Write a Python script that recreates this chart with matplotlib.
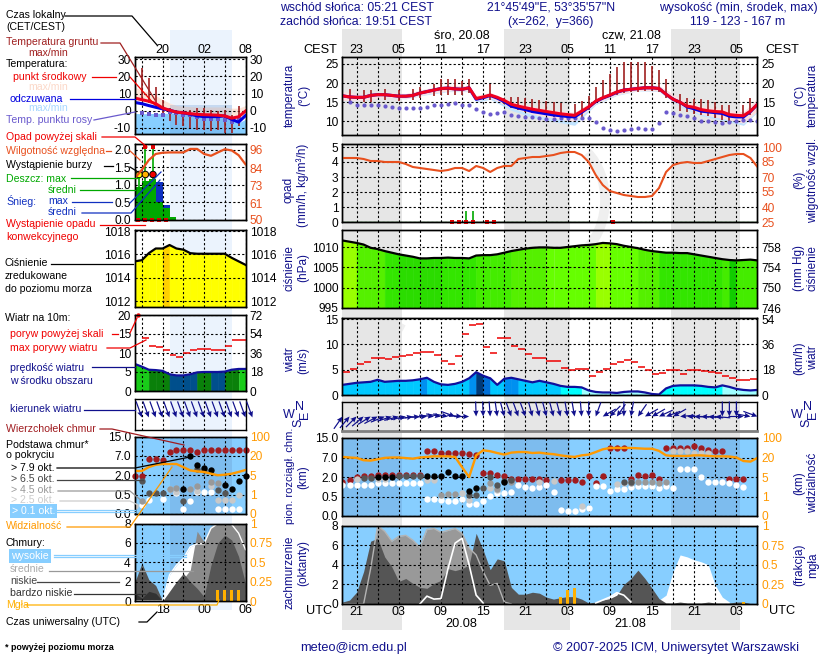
"""
Meteogram page: short left column (history) + long right column (forecast).
Panels are placed by pixel position so they line up with the 820x660 page.
"""
import numpy as np
import matplotlib
matplotlib.use("Agg")
import matplotlib.pyplot as plt
from matplotlib.patches import Arc

plt.rcParams["font.family"] = ["Liberation Sans", "DejaVu Sans"]
W, H = 820, 660

# ── colours ──────────────────────────────────────────────────────────
NAVY = "#10108c"
SKY = "#87ceff"
SKY_NIGHT = "#7dbcee"
ORANGE = "#ff9900"
RH_COL = "#e8501e"
DEW_COL = "#6a5acd"
GROUND_COL = "#a02020"
RAIN_COL = "#00a800"
SNOW_COL = "#1030c0"
TOP_COL = "#a01c20"
PINK = "#fcdfe0"
PALE_BLUE = "#c2e4ff"

# ── right column data: hourly, hours counted from 03 UTC 20.08 ───────
hours = np.arange(-8, 52)
temp_mid = [16.7, 16.4, 16.3, 16.3, 16.8, 17.0, 17.0, 16.8, 16.6, 16.6, 16.8, 17.4, 17.8, 18.2, 18.6,
            18.7, 18.5, 18.4, 18.8, 16.0, 16.4, 16.9, 16.3, 15.5, 14.5, 14.0, 13.6, 13.2, 12.9, 12.6,
            12.3, 12.0, 11.8, 11.6, 12.7, 13.8, 15.3, 16.2, 16.9, 17.7, 18.2, 18.4, 18.6, 18.8, 18.8,
            18.6, 17.1, 15.8, 15.0, 14.0, 13.7, 13.1, 12.8, 12.6, 12.5, 11.8, 11.6, 11.5, 12.7, 14.5]
temp_feel = [16.7, 16.4, 16.3, 16.3, 16.8, 17.0, 17.0, 16.8, 16.6, 16.6, 16.8, 17.4, 17.8, 18.2, 18.6,
             18.7, 18.5, 18.4, 18.8, 15.8, 16.2, 16.8, 16.1, 15.2, 14.0, 13.5, 13.1, 12.6, 12.3, 12.0,
             11.7, 11.5, 11.3, 11.2, 12.4, 13.7, 15.2, 16.1, 16.8, 17.6, 18.2, 18.4, 18.6, 18.8, 18.8,
             18.6, 17.1, 15.8, 15.0, 13.8, 13.3, 12.7, 12.5, 12.3, 12.1, 11.4, 11.2, 11.2, 12.6, 14.5]
env_hours = [-8, -5, -2, 1, 4, 7, 10, 11, 13, 16, 19, 22, 25, 28, 31, 34, 37, 40, 43, 46, 49, 51]
temp_max = [17.8, 17.0, 17.6, 17.3, 18.6, 19.5, 19.3, 16.8, 17.6, 15.3, 14.0, 13.0, 12.4, 15.9, 18.4,
            19.4, 19.4, 16.0, 14.0, 13.4, 12.5, 16.0]
temp_min = [15.5, 15.6, 16.2, 16.0, 17.2, 18.0, 18.0, 15.4, 16.2, 13.6, 11.9, 10.9, 10.0, 14.7, 17.0,
            18.1, 18.0, 14.2, 11.9, 10.8, 9.6, 12.8]
feel_min = [15.4, 15.5, 16.1, 15.9, 17.0, 17.8, 17.8, 15.0, 15.8, 12.9, 11.0, 10.0, 9.0, 14.4, 16.8,
            18.0, 17.8, 13.9, 11.5, 10.3, 9.0, 12.5]
ground_hours = [-7, -5, -4, -2, 0, 2, 3, 5, 6, 7, 8, 9, 10, 13, 15, 16, 17, 18, 19, 20, 21, 22, 23, 25,
                26, 27, 28, 29, 30, 31, 32, 33, 34, 35, 36, 37, 38, 40, 41, 42, 43, 44, 45, 46, 47, 49, 50]
ground_max = [18.4, 18.2, 18.2, 18.6, 18.2, 18.4, 19.1, 19.7, 21, 21.2, 21, 20.6, 21.2, 19.7, 16.2, 16.5,
              16.5, 16, 15.8, 15.5, 15.3, 15, 14.7, 14.5, 15.3, 16.7, 18.9, 20.8, 22.4, 24.1, 25.4, 25.6,
              25.6, 25.4, 24.5, 23.4, 21, 17.1, 16, 15.8, 15.8, 15.5, 15.1, 14.4, 14.2, 14.4, 16]
ground_min = [14.6, 15, 15.2, 15.6, 15.4, 15.6, 16, 16.6, 17, 17, 17, 17, 17.4, 15.6, 14.6, 13.4, 13, 12.6,
              12.2, 12, 11.6, 11.2, 10.9, 10.4, 11.2, 13, 14.7, 15.8, 16.5, 17, 17.5, 17.8, 17.8, 18, 18,
              17.8, 16.2, 12.8, 12.6, 12, 11.6, 11.4, 11, 10.4, 10, 10.2, 11.6]
dew_point = [np.nan, 15, 14.2, 14.2, 14.2, 14.2, 14, 13.8, 13.4, 13.4, 13.5, 13.6, 13.8, 14.3, 14.4, 14.5,
             14.7, 14.4, 14.4, 13.3, 12.5, 12, 12.3, 12.6, 11.8, 11.4, 11.2, 11.1, 10.9, 10.7, 10.6, 10.9,
             10.9, 10.8, 10.8, 10.8, 9.9, 8.4, 7.9, 7.5, 7.9, 8.1, 8.3, 8.1, 8.1, 9.5, 12.4, 12.3, 11.6,
             11.4, 10.8, 10, 10, 9.9, 9.5, 9.9, 10, 10.3, 10.5, 10]
rh_mid = [89, 89, 89, 88, 86, 86, 85, 85, 85, 83, 80, 79, 78, 77, 76, 77, 79, 79, 76, 81, 79, 75, 79, 81,
          81, 88, 89, 90, 90, 91, 92, 94, 95, 95, 92, 85, 72, 62, 56, 54, 52, 51, 50, 50, 51, 59, 75, 82,
          84, 85, 84, 84, 86, 88, 90, 92, 93, 93, 89, 80]
conv_hours = [7.5, 8.5, 9.5, 10.5, 12.5, 13.5, 30.5]
rain_hours = [9.5, 10.5]
rain_max = [0.73, 0.73]
pressure = [1011.6, 1011.3, 1011, 1010.6, 1009.8, 1009.5, 1009, 1008.6, 1008.2, 1007.9, 1007.6, 1007.2, 1007.2,
            1007.3, 1007.3, 1007.4, 1007.3, 1007.3, 1007.2, 1007.9, 1008, 1008, 1008.2, 1008.6, 1009, 1009.3,
            1009.6, 1009.8, 1009.9, 1009.9, 1009.8, 1009.8, 1010, 1010.2, 1010.4, 1010.5, 1010.7, 1011, 1010.9,
            1010.7, 1010.3, 1010, 1009.7, 1009.3, 1009, 1008.8, 1008.6, 1008.6, 1008.5, 1008.5, 1008.2, 1007.9,
            1007.6, 1007.3, 1007, 1006.8, 1006.7, 1006.8, 1006.9, 1006.7]
press_palette = ["#99ff00", "#66ff00", "#55f000", "#44ec00", "#33e600", "#2bdc00", "#11cc00"]
press_color = [0, 0, 2, 2, 2, 2, 4, 4, 5, 5, 5, 5, 5, 5, 4, 4, 4, 4, 4, 3, 3, 3, 3, 3, 2, 2, 2, 2, 2,
               1, 1, 1, 1, 1, 1, 1, 0, 0, 1, 1, 1, 1, 2, 2, 2, 4, 4, 4, 4, 4, 4, 4, 4, 4, 3, 6, 3, 3, 3]
wind_speed = [2, 2.2, 2.4, 2.5, 2.6, 3, 2.6, 2.7, 2.8, 2.8, 2.9, 3.1, 3.4, 2.6, 2.1, 2, 2.2, 2.6, 3.3, 4.5,
              3.8, 3.3, 2, 3.2, 3.4, 3.1, 2.8, 2.5, 2.8, 2.5, 2.2, 1.8, 1.6, 1.6, 1.5, 0.9, 0.6, 0.5, 0.5,
              0.4, 0.6, 0.7, 0.7, 0.5, 0.2, 0.1, 1.3, 1.8, 1.9, 1.9, 1.9, 1.8, 1.6, 1.5, 1.9, 1.6, 1.2, 1.0, 0.9, 1.0]
wind_palette = ["#a0ffff", "#00ffff", "#00c8ff", "#0090f0", "#0070d8", "#003a78"]
wind_color = [2] * 11 + [3] + [2] * 6 + [3, 5, 4, 2, 2, 3, 3] + [2] * 6 + [1] * 3 + [0] * 11 + [1] * 9 + [0] * 5
gust = [4.5, 5.2, 6.1, 6.5, 7.3, 7.3, 7.2, 7.5, 7.6, 7.9, 8.2, 8.5, 8.5, 7.9, 6.7, 6.1, 7.7, 12.1, 13.8, 14,
        9.4, 8.3, 11.2, 11.2, 9.6, 9.1, 8, 7.3, 7.3, 6.7, 6.7, 5.4, 5, 5.2, 5.2, 3.7, 4.5, 5.2, 6.1, 6.6,
        6.9, 6.5, 5.6, 5, 4.1, 4.3, 4.9, 4.9, 4.1, 4.9, 4.9, 4.7, 4.5, 4.3, 3.7, 3.4, 2.9, 2.9, 3.2]
wind_to_deg = [35, 40, 45, 50, 58, 62, 68, 72, 75, 78, 80, 85, 88, 95, 100, 100, 110, 95, 90, 178, 178, 176,
               172, 165, 160, 160, 160, 165, 165, 165, 165, 165, 170, 170, 175, 180, 200, 240, 225, 215, 180,
               190, 215, 240, 240, 245, 250, 240, 265, 270, 272, 272, 275, 275, 180, 180, 180, 90, 100, 110]

# cloud panel uses one axis unit per tick, ticks are not evenly spaced in km
cloud_ticks = [0, 1, 2, 3, 4]
cloud_labels = ["0.0", "0.5", "2.0", "7.0", "15.0"]
vis_labels = ["0", "1", "5", "20", "100"]
top_pos = [1.72, 1.84, 2.0, 2.04, 2.04, 2.09, 2.09, 2.09, 2.09, 2.09, 2.09, 2.09, 3.34, 3.34, 3.22, 3.25, 3.22,
           3.22, 3.2, 3.11, 2.18, 2.2, 2.08, 2.04, 1.92, 1.92, 1.92, 1.92, 1.92, 1.84, np.nan, 1.84, 1.84, 1.84,
           1.74, 2.04, 1.67, 2.04, 3.51, 3.51, 3.51, 1.92, 2.09, 2.04, 2.09, 1.92, 3.51, 3.51, 3.51, 3.51, 3.59,
           3.51, 3.4, 3.34, 3.34, 1.92, 1.92, 1.92]
black_h = [-3, -2, -1, 4, 5, 6, 7, 8, 9, 10, 11, 15]
black_pos = [2.01, 2.01, 2.01, 2.06, 2.06, 2.06, 2.26, 2.06, 2.06, 1.28, 1.45, 1.75]
dark_h = [-5, -4, 0, 1, 2, 3, 10, 11, 12, 13, 14, 15, 16, 32, 33]
dark_pos = [1.96, 1.96, 2.04, 2.04, 2.04, 2.04, 1.07, 1.07, 1.45, 2.01, 1.58, 1.79, 1.84, 1.75, 1.75]
gray_h = [6, 7, 8, 13, 14, 16, 33, 34, 35, 36, 37, 38]
gray_pos = [1.07, 1.11, 1.11, 1.67, 1.41, 1.75, 1.67, 1.75, 1.75, 1.75, 1.67, 1.75]
light_h = [-6, -3, -2, 4, 5, 9, 10, 13, 14, 20, 22, 26, 31, 32, 33, 39, 40, 41, 42, 43, 44]
light_pos = [1.92, 1.92, 1.92, 1.87, 1.87, 1.16, 0.82, 1.45, 1.33, 1.75, 1.79, 0.53, 1.62, 1.67, 1.75, 3.34, 3.34,
             3.34, 3.25, 3.25, 3.22]
white_pos = [1.58, 1.58, 1.58, 1.58, 1.58, 1.67, 1.67, 1.67, 1.67, 1.67, 1.67, 1.67, 0.87, 0.87, 0.82, 0.75, 0.75,
             0.87, 0.63, 0.6, 0.78, 1.04, 1.16, 1.16, 1.24, 1.58, 1.5, 1.46, 1.5, 1.58, 1.24, 0.31, 0.26, 0.27,
             0.34, 0.43, 1.53, 1.53, 1.29, 1.36, 1.36, 1.5, 1.53, 1.53, 1.53, 1.46, 1.53, 1.46, 2.42, 2.42, 2.42,
             2.0, 1.75, 1.75, 1.75, 1.67, 1.58, 1.5]
vis_pos = [3.03, 3.0, 2.98, 2.86, 2.84, 2.91, 2.98, 3.0, 3.0, 2.97, 2.94, 3.0, 3.03, 3.06, 3.06, 3.06, 3.03, 2.5, 2.0,
           3.11, 3.37, 3.32, 3.23, 3.15, 3.25, 3.28, 3.28, 3.23, 3.25, 3.2, 3.17, 3.11, 3.06, 3.03, 3.11, 3.15, 3.28,
           3.42, 3.49, 3.49, 3.49, 3.49, 3.47, 3.45, 3.45, 3.34, 3.11, 3.08, 3.08, 3.08, 3.11, 3.11, 3.08, 3.06, 3.06,
           3.05, 3.0, 2.82, 2.79, 2.98]

cover_mid = [0, 0, 0, 0, 3.6, 8, 7.4, 6.4, 6.9, 7, 6.5, 5.8, 7.6, 7.7, 7.3, 7.5, 7.7, 7.2, 5.7, 5, 3.3, 1.9, 2.1, 0.2, 0]
cover_low = [0.2, 0.4, 1.2, 3.3, 6.4, 6.7, 4.8, 3.8, 2.3, 2.6, 2.1, 1.7, 1.6, 2.1, 2.4, 3.6, 3.4, 3.6, 4.0, 7.2, 5.5, 3.5,
             4.6, 4.4, 1.7, 1, 1, 1.2, 1.1, 0.7, 0.5, 0.65, 0.75, 0.75, 0.5, 0.1, 0.2, 0.4, 0.55, 0.9, 2, 2.6, 3.45, 2.6,
             1.6, 0.55, 0.1, 0.1, 0.2, 0.1, 0.1, 0.1, 0.2, 0.1, 0.1, 0.1, 0.2, 0.2, 0.05, 0]
high_h = [3, 4, 5, 6, 7, 8, 9, 10, 11, 12, 28, 29, 30, 31, 32, 33, 36, 37, 38, 39, 40, 41, 42, 43, 44, 45, 46, 47]
high_cover = [0, 0.8, 0.5, 0.55, 3.6, 6.2, 6.7, 4, 0.9, 0.1, 0.1, 0.4, 0.7, 1.15, 0.9, 0.2, 0, 0.4, 0.9, 3.3, 5, 4.8,
              4.5, 4.3, 4, 1.9, 0.7, 0.2]
fog_h = [23, 24, 25, 49]
fog_frac = [0.09, 0.175, 0.2, 0.02]

# ── left column data: hourly, hours UTC (24 = midnight) ──────────────
l_hours = np.arange(14, 31)
l_temp = [7.3, 6.4, 5.5, 4.1, 1.6, 0.3, -0.8, -1.2, -1.7, -2.1, -2.3, -2.4, -2.6, -3, -4.3, -3.5, -0.2]
l_feel = [4.8, 4.1, 3, 2, 1.1, 0.3, -0.8, -1.2, -2, -3, -3.4, -3.4, -3.4, -3, -5, -6.6, -2.8]
l_temp_max = [13.6, 12, 10.5, 8.8, 6.5, 4.5, 3, 2.6, 2.4, 2.2, 2.2, 2.2, 2.2, 2.2, 1.5, 1.5, 3]
l_feel_top = [-1.5, -1.8, -1.6, -1.6, -1.5, -1.5, -1.6, -1.8, -2.5, -3.5, -4, -4, -4, -4, -5.5, -7, -5]
l_ground_h = [15, 16, 17, 18, 19, 20, 21, 22, 23, 24, 25, 26, 27, 28, 29]
l_ground_max = [24.7, 18.9, 13.7, 6.4, 1.5, 0.6, -0.4, 0.6, 1.5, 1.5, 0.6, -0.4, 0.6, -2.3, 2.5]
l_ground_min = [6.4, 4.4, 2.5, -2.3, -6.2, -8.1, -9, -10, -11, -11, -12, -11, -12.9, -12.9, -9]
l_dew = [np.nan, -1.3, -1.9, -2.7, -2.7, -0.9, -1.3, -2.3, -2.7, -3.7, -4.9, -4.9, -4.7, -5.3, -6.3, -4.3, np.nan]
l_rh = [77.6, 83, 89.4, 93.4, 94.2, 94.4, 94.4, 94.4, 96.7, 96.7, 93.4, 92.2, 94.4, 96.5, 95.7, 92.6, 86.6]
l_rain = [0.95, 1.1, 1.16, 0.52, 0.34, 0.08]
l_snow = [0, 0, 0, 1.09, 0.43, 0]
l_rain_hours = [14, 15, 16, 17, 18, 19]
l_rain_max_h = [14.6, 15.5, 16.6]
l_rain_max = [1.3, 2.05, 2.05]
l_over_h = [15.5, 16.6]
l_storm_col = ["#ffff00", "#ffb000", "#f00000"]
l_conv_h = [14.5, 15.5, 16.5, 17.5, 18.5]
l_press = [1015.4, 1015.5, 1016.1, 1016.5, 1016.5, 1016.8, 1016.5, 1016.4, 1016.1, 1016.05, 1016.05, 1016.05,
           1016.05, 1016.05, 1015.7, 1015.4, 1015.1]
l_press_palette = ["#ffff00", "#ffd000"]
l_press_color = [0, 0, 0, 0, 1] + [0] * 11
l_wind = [7.1, 6.4, 5.6, 5.5, 5.3, 4.4, 4.1, 4.1, 4.4, 4.9, 5, 5, 5, 5.1, 5.6, 5.8, 5.8]
l_wind_palette = ["#19cc19", "#0a800a", "#004f8c"]
l_wind_color = [0, 0, 1, 1, 1, 2, 2, 2, 2, 1, 1, 2, 2, 1, 1, 0]
l_gust_h = [15, 16, 17, 18, 19, 20, 21, 22, 23, 24, 25, 26, 27, 28, 29]
l_gust = [13.9, 11.8, 11.6, 10.7, 9.6, 8.9, 10, 10.7, 11.1, 11.1, 10.7, 10.7, 11.9, 13.3, 13.3]
l_wind_to = [160] * 17
l_top = [1.98, 1.98, 2.85, 2.85, 2.8, 3.22, 3.32, 3.32, 3.32, 3.22, 3.32, 3.32, 3.32, 3.32, 3.32, 3.32, 3.32]
l_black_h = [21, 22, 23, 24, 25, 27, 28, 29, 30]
l_black = [1.27, 2.97, 2.54, 2.37, 2.25, 1.49, 1.29, 1.69, 1.95]
l_dark_h = [15, 16, 17, 18, 21, 23, 24, 26, 27]
l_dark = [1.69, 1.1, 1.1, 1.1, 0.68, 2.34, 2.25, 1.24, 1.1]
l_gray_h = [15, 19, 20, 22, 23, 25, 26]
l_gray = [0.68, 1.27, 1.32, 1.27, 1.46, 1.66, 1.58]
l_light_h = [14, 19, 20, 23, 25, 26, 27, 28, 29]
l_light = [0.42, 1.27, 1.15, 1.2, 1.44, 0.73, 0.73, 0.73, 0.98]
l_white_h = [15, 16, 18, 20, 21, 22, 23, 24, 25, 26, 27, 28, 29]
l_white = [0.47, 0.73, 0.76, 1.1, 0.25, 0.69, 1.15, 1.15, 1.15, 0.25, 0.25, 0.25, 0.25]
l_vis = [2.22, 2.22, 2.42, 2.54, 2.58, 2.58, 2.58, 2.42, 2.25, 2.2, 2.17, 2.08, 2.0, 2.03, 2.08, 2.17, 2.27]
l_cover_low = [2, 3.9, 2.2, 1.6, 0, 1, 2, 2.85, 2, 1.3, 0.45, 3.7, 6, 6.8, 6.3, 4.6, 1.8]
l_cover_vlow = [0.8, 0.3, 1, 0.8, 0, 0, 0, 0, 0, 0, 0, 0, 0, 0, 0, 0, 0]
l_cover_mid = [0, 0, 0, 0, 0, 0, 1.3, 2.3, 3.2, 7.2, 6.1, 7.7, 8, 8, 8, 8, 8]
l_cover_high = [0, 0, 0, 0, 0, 2.7, 3.7, 4.4, 5.6, 5.9, 5.9, 7.5, 8, 8, 7.9, 7, 5.3]
l_fog_h = [26, 27, 28, 29]
l_fog = [0.14, 0.14, 0.14, 0.14]

# ── time axes ────────────────────────────────────────────────────────
night_start = [-8, 14.9, 38.7]
night_end = [0.5, 24.4, 48.5]
R_TICKS = list(range(-6, 51, 3))
L_TICKS = [15, 18, 21, 24, 27, 30]
local_labels = ["23", "05", "11", "17", "23", "05", "11", "17", "23", "05"]
utc_labels = ["21", "03", "09", "15", "21", "03", "09", "15", "21", "03"]
l_local_labels = ["", "20", "", "02", "", "08"]
l_utc_labels = ["", "18", "", "00", "", "06"]


def every_other(labels):
    out = []
    for lab in labels:
        out += [lab, ""]
    return out[:len(R_TICKS)]


def add_panel(x0, x1, y0, y1):
    return fig.add_axes([x0 / W, 1 - y1 / H, (x1 - x0) / W, (y1 - y0) / H])


def limits(v1, p1, v2, p2, top, bottom):
    # y limits from two tick values with known pixel rows
    k = (v2 - v1) / (p2 - p1)
    return v1 + (bottom - p1) * k, v1 + (top - p1) * k


def style(ax, xlim, xticks, ticks, labels, lims, col="black", side="left"):
    ax.set_xlim(*xlim)
    ax.set_ylim(*lims)
    ax.patch.set_visible(False)
    ax.set_xticks(xticks)
    ax.set_xticklabels([])
    ax.set_yticks(ticks)
    ax.set_yticklabels(labels, color=col, fontsize=TICK_FS)
    ax.tick_params(length=0, pad=3)
    for s in ax.spines.values():
        s.set_linewidth(1.0)
    ax.set_axisbelow(False)
    ax.grid(True, color="black", linestyle=(0, (2, 2)), linewidth=0.8)


def twin(ax, ticks, labels, lims, col="black"):
    t = ax.twinx()
    t.set_ylim(*lims)
    t.set_yticks(ticks)
    t.set_yticklabels(labels, color=col, fontsize=TICK_FS)
    t.tick_params(length=0, pad=3)
    t.patch.set_visible(False)
    for s in t.spines.values():
        s.set_linewidth(1.0)
    return t


def strips(ax, x, y, base, palette, idx):
    # thin same-colour edge hides the seams between neighbouring strips
    for i, c in enumerate(idx):
        ax.fill_between(x[i:i + 2], base, y[i:i + 2], color=palette[c], linewidth=0.4)


TICK_FS = 8.6
LAB_FS = 7.6
TITLE_FS = 8.5
fig = plt.figure(figsize=(W / 100, H / 100), dpi=100, facecolor="white")

# page-wide background: night bands, faint logo behind the panels
bg_px = fig.add_axes([0, 0, 1, 1], zorder=-3)
bg_px.set_xlim(0, W)
bg_px.set_ylim(H, 0)
bg_px.axis("off")
for cx, cy, ww, hh, t1, t2 in [(425, 270, 110, 130, 110, 235), (560, 200, 90, 120, 300, 60)]:
    bg_px.add_patch(Arc((cx, cy), ww, hh, theta1=t1, theta2=t2, color="#efefef", linewidth=7))

bg_r = add_panel(342.5, 757.5, 29, 630)
bg_r.set_zorder(-2)
bg_r.set_xlim(hours[0], hours[-1])
bg_r.axis("off")
for a, b in zip(night_start, night_end):
    bg_r.axvspan(a, b, color="#e6e6e6", linewidth=0)
bg_l = add_panel(135, 245.5, 30, 610)
bg_l.set_zorder(-2)
bg_l.set_xlim(l_hours[0], l_hours[-1])
bg_l.axis("off")
bg_l.axvspan(19.07, 28, color="#ebf3fd", linewidth=0)

RX = (342.5, 757.5)
LX = (135, 245.5)
R_XL = (hours[0], hours[-1])
L_XL = (l_hours[0], l_hours[-1])

# ── R1 temperature ───────────────────────────────────────────────────
ax = add_panel(*RX, 57, 135)
lim = limits(25, 64, 10, 121.5, 57, 135)
style(ax, R_XL, R_TICKS, [10, 15, 20, 25], ["10", "15", "20", "25"], lim)
ax.fill_between(env_hours, feel_min, temp_min, color=PALE_BLUE, linewidth=0)
ax.fill_between(env_hours, temp_min, temp_max, color=PINK, linewidth=0)
ax.vlines(ground_hours, ground_min, ground_max, color=GROUND_COL, linewidth=1.2, zorder=3)
ax.scatter(hours, dew_point, s=9, color=DEW_COL, linewidth=0, zorder=3)
ax.plot(hours, temp_feel, color="#0000e0", linewidth=2.2, zorder=4)
ax.plot(hours, temp_mid, color="#f00020", linewidth=2.2, zorder=5)
ax.xaxis.tick_top()
ax.set_xticklabels(every_other(local_labels), fontsize=TICK_FS + 0.4)
ax.tick_params(axis="x", pad=1)
twin(ax, [10, 15, 20, 25], ["10", "15", "20", "25"], lim)

# ── R2 precipitation + humidity ──────────────────────────────────────
ax = add_panel(*RX, 144, 222)
lim = limits(5, 147, 0, 222, 144, 222)
style(ax, R_XL, R_TICKS, range(6), list("012345"), lim)
ax.axhline(0, color="#006400", linewidth=1.0)
ax.vlines(rain_hours, 0, rain_max, color=RAIN_COL, linewidth=1.2, zorder=3)
ax.scatter(conv_hours, [0] * len(conv_hours), marker="s", s=8, color="#e00000", linewidth=0, zorder=4, clip_on=False)
t = twin(ax, [25, 40, 55, 70, 85, 100], ["25", "40", "55", "70", "85", "100"], limits(100, 147, 25, 222, 144, 222), RH_COL)
t.plot(hours, rh_mid, color=RH_COL, linewidth=1.5)

# ── R3 pressure ──────────────────────────────────────────────────────
ax = add_panel(*RX, 230, 308)
lim = limits(1010, 247, 995, 308, 230, 308)
style(ax, R_XL, R_TICKS, [995, 1000, 1005, 1010], ["995", "1000", "1005", "1010"], lim)
strips(ax, hours, pressure, lim[0], press_palette, press_color)
ax.plot(hours, pressure, color="black", linewidth=1.6, zorder=4)
twin(ax, [746, 750, 754, 758], ["746", "750", "754", "758"], limits(758, 247, 746, 308, 230, 308))

# ── R4 wind ──────────────────────────────────────────────────────────
ax = add_panel(*RX, 318, 395)
lim = limits(15, 319, 0, 395, 318, 395)
style(ax, R_XL, R_TICKS, [0, 5, 10, 15], ["0", "5", "10", "15"], lim)
strips(ax, hours, wind_speed, 0, wind_palette, wind_color)
ax.plot(hours, wind_speed, color="#10109c", linewidth=1.6, zorder=4)
ax.hlines(gust, hours[:len(gust)], hours[:len(gust)] + 1, color="#ee0000", linewidth=1.1, zorder=4)
twin(ax, [0, 18, 36, 54], ["0", "18", "36", "54"], limits(54, 319, 0, 395, 318, 395))

# ── R5 wind direction ────────────────────────────────────────────────
ax = add_panel(*RX, 402, 431)
style(ax, R_XL, R_TICKS, [], [], (-1, 1))
ax.grid(False, axis="y")
rad = np.radians(wind_to_deg)
ax.quiver(hours, np.zeros(len(hours)), 15 * np.sin(rad), 15 * np.cos(rad), angles="uv", scale_units="dots", scale=1,
          units="dots", width=1.2, headwidth=4.5, headlength=5, headaxislength=4.5, pivot="tip", color=NAVY,
          clip_on=False, zorder=4)
ax.spines["bottom"].set_color("#808080")
ax.spines["bottom"].set_linewidth(2)

# ── R6 cloud bases, tops, visibility ─────────────────────────────────
ax = add_panel(*RX, 438, 516)
style(ax, R_XL, R_TICKS, cloud_ticks, cloud_labels, (0, 4))
ax.patch.set_visible(True)
ax.patch.set_facecolor(SKY)
for a, b in zip(night_start, night_end):
    ax.axvspan(a, b, color=SKY_NIGHT, linewidth=0, zorder=0)
DOT = 21
ax.scatter(hours[:len(top_pos)], top_pos, s=DOT, color=TOP_COL, linewidth=0, zorder=3)
ax.scatter(hours[:len(white_pos)], white_pos, s=DOT, color="white", linewidth=0, zorder=3.1)
ax.scatter(light_h, light_pos, s=DOT, color="#c8c8c8", linewidth=0, zorder=3.2)
ax.scatter(gray_h, gray_pos, s=DOT, color="#999999", linewidth=0, zorder=3.3)
ax.scatter(dark_h, dark_pos, s=DOT, color="#555555", linewidth=0, zorder=3.4)
ax.scatter(black_h, black_pos, s=DOT, color="black", linewidth=0, zorder=3.5)
t = twin(ax, cloud_ticks, vis_labels, (0, 4), ORANGE)
t.plot(hours, vis_pos, color=ORANGE, linewidth=1.7)

# ── R7 cloud cover ───────────────────────────────────────────────────
ax = add_panel(*RX, 525.5, 604)
style(ax, R_XL, R_TICKS, [0, 2, 4, 6, 8], ["0", "2", "4", "6", "8"], (0, 8))
ax.patch.set_visible(True)
ax.patch.set_facecolor(SKY)
ax.fill_between(high_h, 0, high_cover, color="white", linewidth=0, zorder=1)
ax.fill_between(hours[:len(cover_mid)], 0, cover_mid, color="#999999", linewidth=0, zorder=1.2)
ax.fill_between(hours, 0, cover_low, color="#555555", linewidth=0, zorder=1.3)
ax.plot(hours[:len(cover_mid)], cover_mid, color="#b4b4b4", linewidth=1, zorder=1.4)
ax.plot(high_h[:10], high_cover[:10], color="white", linewidth=1.2, zorder=3)
ax.plot(high_h[10:16], high_cover[10:16], color="white", linewidth=1.2, zorder=3)
ax.set_xticklabels(every_other(utc_labels), fontsize=TICK_FS + 0.4)
ax.tick_params(axis="x", pad=1.5)
t = twin(ax, [0, 0.25, 0.5, 0.75, 1], ["0", "0.25", "0.5", "0.75", "1"], (0, 1), ORANGE)
t.bar(fog_h, fog_frac, width=0.45, color="#ffb000", linewidth=0)

# ── L1 temperature ───────────────────────────────────────────────────
ax = add_panel(*LX, 57, 134)
lim = limits(30, 59, -10, 128, 57, 134)
ticks = [-10, 0, 10, 20, 30]
labs = ["-10", "0", "10", "20", "30"]
style(ax, L_XL, L_TICKS, ticks, labs, lim)
ax.fill_between(l_hours, l_feel_top, lim[0], color=SKY, linewidth=0)
ax.fill_between(l_hours, l_temp_max, l_temp, color="#fde4d8", linewidth=0)
ax.axvspan(19.07, 28, color="#5a8fd0", alpha=0.25, linewidth=0, ymax=0.38)
ax.vlines(l_ground_h, l_ground_min, l_ground_max, color=GROUND_COL, linewidth=1.2, zorder=3)
ax.scatter(l_hours, l_dew, s=9, marker="s", color=DEW_COL, linewidth=0, zorder=3)
ax.plot(l_hours, l_feel, color="#0000e0", linewidth=2.2, zorder=4)
ax.plot(l_hours, l_temp, color="#f00020", linewidth=2.2, zorder=5)
ax.xaxis.tick_top()
ax.set_xticklabels(l_local_labels, fontsize=TICK_FS + 0.4)
ax.tick_params(axis="x", pad=1)
twin(ax, ticks, labs, lim)

# ── L2 precipitation + humidity ──────────────────────────────────────
ax = add_panel(*LX, 144, 220)
lim = limits(2, 150, 0, 220, 144, 220)
style(ax, L_XL, L_TICKS, [0, 0.5, 1, 1.5, 2], ["0.0", "0.5", "1.0", "1.5", "2.0"], lim)
ax.bar(l_rain_hours, l_snow, width=1, align="edge", color=SNOW_COL, linewidth=0, zorder=2)
ax.bar(l_rain_hours, l_rain, width=1, align="edge", color=RAIN_COL, linewidth=0, zorder=2.1)
ax.vlines(l_rain_max_h, 0, l_rain_max, color=RAIN_COL, linewidth=1.2, zorder=3)
ax.scatter(l_over_h, [2.09, 2.09], marker="s", s=12, color="#e00000", linewidth=0, zorder=4)
ax.scatter(l_rain_max_h, [1.3, 1.3, 1.3], s=22, c=l_storm_col, edgecolors="black", linewidth=0.7, zorder=5)
ax.scatter(l_conv_h, [0] * len(l_conv_h), marker="s", s=5, color="#e00000", linewidth=0, zorder=5, clip_on=False)
t = twin(ax, [50, 61, 73, 84, 96], ["50", "61", "73", "84", "96"], limits(96, 150, 50, 220, 144, 220), RH_COL)
t.plot(l_hours, l_rh, color=RH_COL, linewidth=1.6)

# ── L3 pressure ──────────────────────────────────────────────────────
ax = add_panel(*LX, 230, 306.5)
lim = limits(1018, 231, 1012, 301, 230, 306.5)
ticks = [1012, 1014, 1016, 1018]
labs = [str(v) for v in ticks]
style(ax, L_XL, L_TICKS, ticks, labs, lim)
strips(ax, l_hours, l_press, lim[0], l_press_palette, l_press_color)
ax.plot(l_hours, l_press, color="black", linewidth=1.6, zorder=4)
twin(ax, ticks, labs, lim)

# ── L4 wind ──────────────────────────────────────────────────────────
ax = add_panel(*LX, 315, 391)
lim = limits(20, 315, 0, 391, 315, 391)
style(ax, L_XL, L_TICKS, [0, 5, 10, 15, 20], ["0", "5", "10", "15", "20"], lim)
strips(ax, l_hours, l_wind, 0, l_wind_palette, l_wind_color)
ax.plot(l_hours, l_wind, color="#10109c", linewidth=1.6, zorder=4)
ax.hlines(l_gust, l_gust_h, np.array(l_gust_h) + 1, color="#ee0000", linewidth=1.1, zorder=4)
ax.scatter([14.5], [20], s=10, color="#ee0000", linewidth=0, zorder=5, clip_on=False)
twin(ax, [0, 18, 36, 54, 72], ["0", "18", "36", "54", "72"], limits(72, 315, 0, 391, 315, 391))

# ── L5 wind direction ────────────────────────────────────────────────
ax = add_panel(*LX, 398.5, 430)
style(ax, L_XL, L_TICKS, [], [], (-1, 1))
ax.grid(False, axis="y")
rad = np.radians(l_wind_to)
ax.quiver(l_hours + 1, np.full(len(l_hours), -0.2), 17 * np.sin(rad), 17 * np.cos(rad), angles="uv", scale_units="dots",
          scale=1, units="dots", width=1.2, headwidth=4.5, headlength=5, headaxislength=4.5, pivot="tip", color=NAVY,
          clip_on=False, zorder=4)

# ── L6 cloud bases ───────────────────────────────────────────────────
ax = add_panel(*LX, 436.5, 514)
style(ax, L_XL, L_TICKS, cloud_ticks, cloud_labels, (0, 4))
ax.patch.set_visible(True)
ax.patch.set_facecolor(SKY)
ax.axvspan(19.07, 28, color=SKY_NIGHT, linewidth=0, zorder=0)
ax.scatter(l_hours, l_top, s=DOT, color=TOP_COL, linewidth=0, zorder=3, clip_on=False)
ax.scatter(l_white_h, l_white, s=DOT, color="white", linewidth=0, zorder=3.1)
ax.scatter(l_light_h, l_light, s=DOT, color="#c8c8c8", linewidth=0, zorder=3.2)
ax.scatter(l_gray_h, l_gray, s=DOT, color="#999999", linewidth=0, zorder=3.3)
ax.scatter(l_dark_h, l_dark, s=DOT, color="#555555", linewidth=0, zorder=3.4)
ax.scatter(l_black_h, l_black, s=DOT, color="black", linewidth=0, zorder=3.5, clip_on=False)
t = twin(ax, cloud_ticks, vis_labels, (0, 4), ORANGE)
t.plot(l_hours, l_vis, color=ORANGE, linewidth=1.7)

# ── L7 cloud cover ───────────────────────────────────────────────────
ax = add_panel(*LX, 523.5, 601)
style(ax, L_XL, L_TICKS, [0, 2, 4, 6, 8], ["0", "2", "4", "6", "8"], (0, 8))
ax.patch.set_visible(True)
ax.patch.set_facecolor(SKY)
ax.axvspan(19.07, 28, color=SKY_NIGHT, linewidth=0, zorder=0)
ax.fill_between(l_hours, 0, l_cover_high, color="white", linewidth=0, zorder=1)
ax.fill_between(l_hours, 0, l_cover_mid, color="#8a8a8a", linewidth=0, zorder=1.2)
ax.fill_between(l_hours, 0, l_cover_low, color="#555555", linewidth=0, zorder=1.3)
ax.fill_between(l_hours, 0, l_cover_vlow, color="#333333", linewidth=0, zorder=1.4)
ax.plot(l_hours, l_cover_high, color="white", linewidth=1, zorder=1.5)
ax.set_xticklabels(l_utc_labels, fontsize=TICK_FS + 0.4)
ax.tick_params(axis="x", pad=2.5)
t = twin(ax, [0, 0.25, 0.5, 0.75, 1], ["0", "0.25", "0.5", "0.75", "1"], (0, 1), ORANGE)
t.bar(l_fog_h, l_fog, width=0.45, color="#ffb000", linewidth=0)

# ── overlay: all page text and the legend leader lines ───────────────
ov = fig.add_axes([0, 0, 1, 1], zorder=20)
ov.set_xlim(0, W)
ov.set_ylim(H, 0)
ov.axis("off")


def txt(x, y, s, col="black", ha="left", fs=LAB_FS, rot=0, **kw):
    ov.text(x, y, s, color=col, ha=ha, va="center", fontsize=fs, rotation=rot, **kw)


left_text = [
    (6, 15, "Czas lokalny", "black"), (6, 27, "(CET/CEST)", "black"),
    (6, 42, "Temperatura gruntu", "#a02020"), (28, 52.5, "max/min", "#a02020"),
    (6, 64, "Temperatura:", "black"), (13, 77, "punkt środkowy", "#f00000"),
    (28, 87, "max/min", "#fcd8c8"), (10, 98.5, "odczuwana", "#0000e0"),
    (28, 108, "max/min", "#a8d8ff"), (6, 120, "Temp. punktu rosy", DEW_COL),
    (6, 137.5, "Opad powyżej skali", "#f00000"), (6, 151, "Wilgotność względna", RH_COL),
    (6, 165, "Wystąpienie burzy", "black"), (6, 179, "Deszcz: max", RAIN_COL),
    (48, 190, "średni", RAIN_COL), (6, 201, "Śnieg:", SNOW_COL), (48, 201, "max", SNOW_COL),
    (48, 212, "średni", SNOW_COL), (6, 224, "Wystąpienie opadu", "#f00000"),
    (6, 237, "konwekcyjnego", "#f00000"), (5, 263.5, "Ciśnienie", "black"),
    (5, 276, "zredukowane", "black"), (5, 289, "do poziomu morza", "black"),
    (5, 318, "Wiatr na 10m:", "black"), (10, 334, "poryw powyżej skali", "#f00000"),
    (10, 348, "max porywy wiatru", "#f00000"), (10, 368, "prędkość wiatru", NAVY),
    (10, 381, "w środku obszaru", NAVY), (10, 409, "kierunek wiatru", NAVY),
    (6, 429.5, "Wierzchołek chmur", TOP_COL), (6, 445, "Podstawa chmur*", "black"),
    (6, 455, "o pokryciu", "black"), (11, 468, "> 7.9 okt.", "black"),
    (11, 479, "> 6.5 okt.", "#444444"), (11, 490, "> 4.5 okt.", "#999999"),
    (11, 500, "> 2.5 okt.", "#cccccc"), (6, 526, "Widzialność", ORANGE),
    (6, 543, "Chmury:", "black"), (10, 569, "średnie", "#aaaaaa"),
    (10, 581, "niskie", "#444444"), (10, 593, "bardzo niskie", "#333333"),
    (6, 605, "Mgła", "#ffb000"), (6, 622, "Czas uniwersalny (UTC)", "black"),
]
for x, y, s, c in left_text:
    txt(x, y, s, c)
box = dict(facecolor=SKY, edgecolor="none", pad=1.5)
txt(12, 511, "> 0.1 okt.", "white", bbox=box)
txt(11, 556, "wysokie", "white", bbox=box)
txt(5, 648, "* powyżej poziomu morza", fs=6.4, fontweight="bold")

leaders = [
    ("black", [65, 132, 157], [16, 16, 45]), ("#a02020", [101, 120, 155], [43, 43, 100]),
    ("#f00000", [92, 116], [77, 77]), ("#f00000", [130, 155], [77, 105]), ("#0000e0", [70, 135], [99, 99]),
    (DEW_COL, [94, 135], [120, 112]), ("#f00000", [102, 135, 147], [137, 137, 147]),
    (RH_COL, [106, 111], [151, 151]), (RH_COL, [129, 140], [150, 160]),
    ("black", [104, 113], [166, 166]), ("black", [130, 138], [167, 172]), (RAIN_COL, [71, 139], [178, 178]),
    (RAIN_COL, [80, 135], [190, 190]), (SNOW_COL, [72, 112], [202, 202]), (SNOW_COL, [130, 161], [203, 172]),
    (SNOW_COL, [82, 131, 160], [213, 213, 180]), ("#f00000", [100, 145], [225, 225]),
    ("black", [51, 133], [264, 264]), ("#f00000", [112, 118], [334, 334]), ("#f00000", [130, 137], [333, 318]),
    ("#f00000", [107, 130, 146], [348, 348, 340]), (NAVY, [92, 135], [367, 367]), (NAVY, [84, 135], [410, 410]),
    (TOP_COL, [100, 112, 184], [429, 429, 445]), ("black", [57, 135, 190], [468, 468, 457]),
    ("#444444", [57, 143], [480, 480]), ("#999999", [58, 130, 143], [491, 491, 502]),
    ("#cccccc", [60, 130, 138], [501, 501, 505]), (SKY, [57, 135], [509.5, 509.5]), (SKY, [57, 135], [511.5, 511.5]),
    (ORANGE, [67, 130, 172], [527, 527, 467]), (SKY, [54, 186], [555, 555]), (SKY, [54, 186], [557, 557]),
    ("#999999", [49, 193], [571, 571]), ("#444444", [37, 119], [582, 582]), ("#333333", [74, 145], [594, 594]),
    ("#ffb000", [26, 217, 219], [605, 605, 600]), ("black", [139, 147, 157], [622, 622, 612]),
]
for c, xs, ys in leaders:
    ov.plot(xs, ys, color=c, linewidth=0.9)

# header
txt(280, 8, "wschód słońca: 05:21 CEST", NAVY, fs=8.8)
txt(280, 22, "zachód słońca: 19:51 CEST", NAVY, fs=8.8)
txt(551, 8, "21°45'49\"E, 53°35'57\"N", NAVY, ha="center", fs=8.8)
txt(551, 22, "(x=262,  y=366)", NAVY, ha="center", fs=8.8)
txt(818, 8, "wysokość (min, środek, max)", NAVY, ha="right", fs=8.8)
txt(738, 22, "119 - 123 - 167 m", NAVY, ha="center", fs=8.8)
txt(462, 36, "śro, 20.08", ha="center", fs=9)
txt(631, 36, "czw, 21.08", ha="center", fs=9)
txt(303, 50, "CEST", fs=9.2)
txt(765, 50, "CEST", fs=9.2)
txt(306, 611, "UTC", fs=9.2)
txt(769, 611, "UTC", fs=9.2)
txt(461, 624, "20.08", ha="center", fs=9.2)
txt(630.5, 624, "21.08", ha="center", fs=9.2)

# axis titles
left_titles = [(290, 95, "temperatura"), (304, 95, "(°C)"), (289, 190, "opad"), (303, 185, "(mm/h, kg/m³/h)"),
               (290, 268, "ciśnienie"), (303, 268, "(hPa)"), (290, 360, "wiatr"), (303, 360, "(m/s)"),
               (303, 477, "(km)"), (290, 572, "zachmurzenie"), (303, 563, "(oktanty)")]
right_titles = [(813, 95, "temperatura"), (800, 95, "(°C)"), (813, 180, "wilgotność wzgl."), (799, 180, "(%)"),
                (813, 268, "ciśnienie"), (799, 268, "(mm Hg)"), (813, 358, "wiatr"), (799, 358, "(km/h)"),
                (813, 483, "widzialność"), (799, 483, "(km)"), (813, 565, "mgła"), (799, 565, "(frakcja)")]
for x, y, s in left_titles + right_titles:
    txt(x, y, s, NAVY, ha="center", fs=TITLE_FS, rot=90)
txt(290, 476, "pion. rozciągł. chm.", NAVY, ha="center", fs=8.0, rot=90)
for x0 in (289, 797):
    txt(x0, 415, "W", NAVY, ha="center", fs=9)
    txt(x0 + 10.5, 407, "N", NAVY, ha="center", fs=9)
    txt(x0 + 16, 415, "E", NAVY, ha="center", fs=9, rot=90)
    txt(x0 + 9, 423, "S", NAVY, ha="center", fs=9, rot=90)

# footer
txt(300, 648, "meteo@icm.edu.pl", NAVY, fs=9.2)
txt(553, 648, "© 2007-2025 ICM, Uniwersytet Warszawski", NAVY, fs=9.2)

fig.savefig("out.png", dpi=100, facecolor="white")
